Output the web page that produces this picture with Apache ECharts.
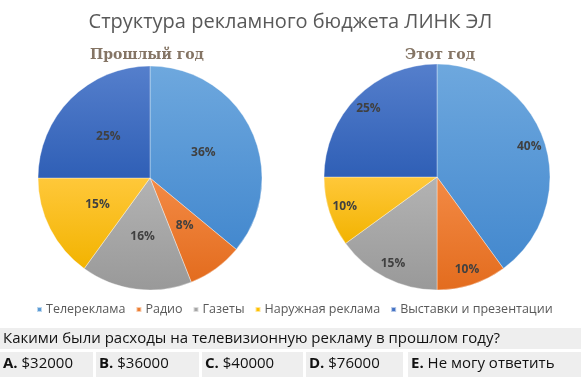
<!DOCTYPE html>
<html>
<head>
<meta charset="utf-8">
<script src="https://cdn.jsdelivr.net/npm/echarts@6/dist/echarts.min.js"></script>
<style>
  html, body { margin: 0; padding: 0; background: #fff; }
  #chart { width: 581px; height: 377px; }
</style>
</head>
<body>
<div id="chart"></div>
<script>
var categories = ['Телереклама', 'Радио', 'Газеты', 'Наружная реклама', 'Выставки и презентации'];
var lastYear = [36, 8, 16, 15, 25];
var thisYear = [40, 10, 15, 10, 25];
var chartTitle = 'Структура рекламного бюджета ЛИНК ЭЛ';
var pieTitles = ['Прошлый год', 'Этот год'];
var question = 'Какими были расходы на телевизионную рекламу в прошлом году?';
var answerKeys = ['A.', 'B.', 'C.', 'D.', 'E.'];
var answerTexts = ['$32000', '$36000', '$40000', '$76000', 'Не могу ответить'];

// цвета долей: верх / низ градиента
var sliceColors = [
  ['#6ea8de', '#4388ce'],
  ['#f38a45', '#e36c1e'],
  ['#b3b3b3', '#999999'],
  ['#ffc83a', '#f2b300'],
  ['#557fcc', '#2f5fb6']
];
var solidColors = ['#5b9bd5', '#ed7d31', '#a5a5a5', '#ffc000', '#4472c4'];

function grad(i) {
  return new echarts.graphic.LinearGradient(0, 0, 0, 1, [
    { offset: 0, color: sliceColors[i][0] },
    { offset: 1, color: sliceColors[i][1] }
  ]);
}

function pieData(values, transparent) {
  return values.map(function (v, i) {
    return {
      name: categories[i],
      value: v,
      itemStyle: transparent ? { color: 'rgba(0,0,0,0)', borderWidth: 0 } : { color: grad(i) }
    };
  });
}

var labelStyle = {
  show: true,
  position: 'inside',
  formatter: '{c}%',
  color: '#404040',
  fontFamily: 'Open Sans',
  fontWeight: 'bold',
  fontSize: 12
};

// раскладка нижнего блока
var boxes = [[0, 93], [96, 199], [202, 303], [306, 403], [408, 581]];

var graphics = [
  { type: 'text', style: { text: pieTitles[0], x: 147, y: 55, textAlign: 'center', textVerticalAlign: 'middle', font: 'bold 14px "DejaVu Serif"', fill: '#857565' } },
  { type: 'text', style: { text: pieTitles[1], x: 440, y: 55, textAlign: 'center', textVerticalAlign: 'middle', font: 'bold 14px "DejaVu Serif"', fill: '#857565' } },
  { type: 'rect', shape: { x: 0, y: 328, width: 581, height: 21 }, style: { fill: '#eeeeee' } },
  { type: 'text', style: { text: question, x: 3, y: 339, textVerticalAlign: 'middle', font: '15px "Open Sans"', fill: '#111' } }
];
boxes.forEach(function (b, i) {
  graphics.push({ type: 'rect', shape: { x: b[0], y: 352, width: b[1] - b[0], height: 25 }, style: { fill: '#eeeeee' } });
  graphics.push({
    type: 'text',
    style: {
      text: '{k|' + answerKeys[i] + '} ' + answerTexts[i],
      x: b[0] + 3, y: 364,
      textVerticalAlign: 'middle',
      font: '15px "Open Sans"',
      fill: '#111',
      rich: { k: { fontWeight: 'bold', fontSize: 15, fontFamily: 'Open Sans', fill: '#111' } }
    }
  });
});

var chart = echarts.init(document.getElementById('chart'));
chart.setOption({
  animation: false,
  title: {
    text: chartTitle,
    left: 'center',
    top: 7,
    textStyle: { fontFamily: 'Open Sans', fontWeight: 'normal', fontSize: 20, color: '#595959' }
  },
  legend: {
    left: 31,
    top: 298,
    icon: 'rect',
    itemWidth: 5,
    itemHeight: 5,
    itemGap: 10,
    textStyle: { fontFamily: 'Open Sans', fontSize: 12.5, color: '#595959', padding: [0, 0, 0, -1] },
    data: categories.map(function (c, i) { return { name: c, itemStyle: { color: solidColors[i] } }; })
  },
  graphic: graphics,
  series: [{
    type: 'pie',
    center: [150, 178],
    radius: 112,
    startAngle: 90,
    clockwise: true,
    silent: true,
    label: labelStyle,
    labelLine: { show: false },
    itemStyle: { borderColor: 'rgba(255,255,255,0.6)', borderWidth: 0.6 },
    data: pieData(lastYear)
  }, {
    type: 'pie',
    center: [437, 177],
    radius: 113,
    startAngle: 90,
    clockwise: true,
    silent: true,
    label: { show: false },
    labelLine: { show: false },
    itemStyle: { borderColor: 'rgba(255,255,255,0.6)', borderWidth: 0.6 },
    data: pieData(thisYear)
  }, {
    // прозрачное кольцо только для подписей правой диаграммы
    type: 'pie',
    center: [437, 177],
    radius: [75, 113],
    startAngle: 90,
    clockwise: true,
    silent: true,
    label: labelStyle,
    labelLine: { show: false },
    data: pieData(thisYear, true)
  }]
});
</script>
</body>
</html>
